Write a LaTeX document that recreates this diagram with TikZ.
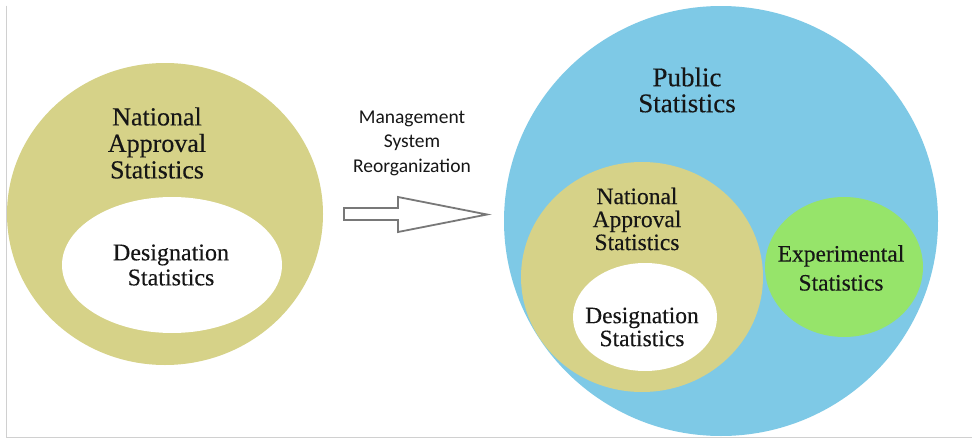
\documentclass[tikz,border=0pt]{standalone}
\usepackage{fontspec}
\setmainfont{Liberation Serif}
\newfontfamily\txtfont{Liberation Serif}[FakeBold=0.3]
\newfontfamily\calfont{Carlito}
\usetikzlibrary{shapes.geometric}
\definecolor{olive}{RGB}{214,210,136}
\definecolor{pubblue}{RGB}{126,201,230}
\definecolor{expgreen}{RGB}{150,228,106}
\definecolor{inktext}{RGB}{22,22,22}
\definecolor{framegray}{RGB}{208,208,208}
\definecolor{arrowgray}{RGB}{120,120,120}
\tikzset{
  blob/.style={ellipse, inner sep=0pt, draw=none},
  label/.style={align=center, text=inktext, inner sep=0pt},
}
\newcommand{\fs}[2]{\fontsize{#1}{#2}\selectfont}
\begin{document}
\begin{tikzpicture}[x=1pt, y=-1pt]
  \useasboundingbox (0,0) rectangle (972,439);
  \fill[white] (0,0) rectangle (972,439);
  % thin frame on the left and bottom
  \draw[framegray, line width=1.5pt] (6.5,5.5) -- (6.5,437.5) -- (972,437.5);

  % left group: national approval statistics containing designation statistics
  \node[blob, fill=olive, minimum width=316pt, minimum height=302pt] (natL) at (165,214) {};
  \node[blob, fill=white, minimum width=220pt, minimum height=136pt] (desL) at (172,265) {};
  \node[label, font=\txtfont\fs{26}{26.5}] (natLtxt) at (157,143) {National\\Approval\\Statistics};
  \node[label, font=\txtfont\fs{24}{25}] (desLtxt) at (171,265) {Designation\\Statistics};

  % transition label and hollow arrow
  \node[label, font=\calfont\fs{19.5}{24.5}] (mgmt) at (412,143) {Management\\System\\Reorganization};
  \draw[arrowgray, line width=1.8pt, fill=white, line join=miter]
    (344,208) -- (398,208) -- (398,197) -- (487,214.5) -- (398,232)
    -- (398,220) -- (344,220) -- cycle;

  % right group: public statistics
  \node[blob, fill=pubblue, minimum width=434pt, minimum height=430pt] (pub) at (721,221) {};
  \node[blob, fill=olive, minimum width=242pt, minimum height=230pt] (natR) at (642,277) {};
  \node[blob, fill=white, minimum width=144pt, minimum height=108pt] (desR) at (645,317) {};
  \node[blob, fill=expgreen, minimum width=158pt, minimum height=140pt] (exp) at (844,267) {};
  \node[label, font=\txtfont\fs{27}{26}] (pubtxt) at (687,90) {Public\\Statistics};
  \node[label, font=\txtfont\fs{23.5}{23}] (natRtxt) at (637,219) {National\\Approval\\Statistics};
  \node[label, font=\txtfont\fs{23.5}{23}] (desRtxt) at (642,327) {Designation\\Statistics};
  \node[label, font=\txtfont\fs{23.5}{29}] (exptxt) at (841,268) {Experimental\\Statistics};
\end{tikzpicture}
\end{document}
